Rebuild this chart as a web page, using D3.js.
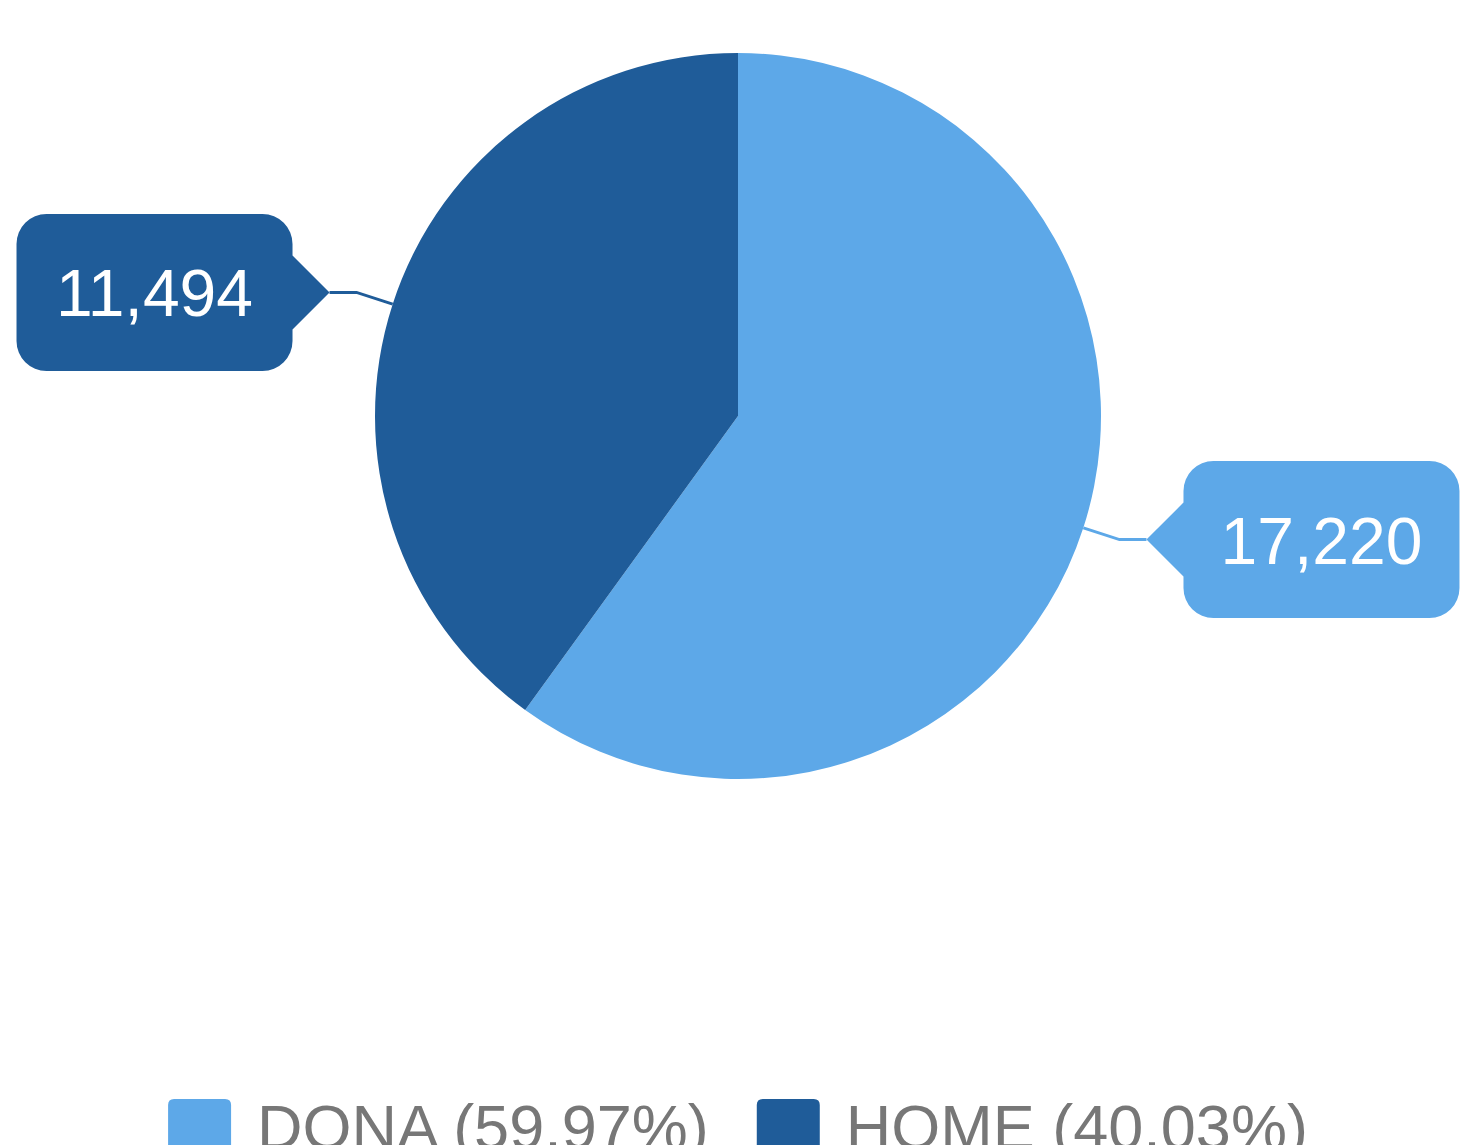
<!DOCTYPE html>
<html>
<head>
<meta charset="utf-8">
<script src="https://cdn.jsdelivr.net/npm/d3@7"></script>
<style>
  body { margin: 0; background: #fff; }
  svg { display: block; font-family: "Liberation Sans", Arial, sans-serif; }
</style>
</head>
<body>
<div id="chart"></div>
<script>
  // data
  var labels = ["DONA", "HOME"];
  var values = [17220, 11494];
  var colors = ["#5DA8E8", "#1F5C99"];

  var width = 1461, height = 1145;
  var cx = 738, cy = 416, radius = 363;

  var svg = d3.select("#chart")
      .append("svg")
      .attr("width", width)
      .attr("height", height);

  var total = d3.sum(values);
  var data = labels.map(function (l, i) { return { label: l, value: values[i], color: colors[i] }; });

  var pie = d3.pie().sort(null).value(function (d) { return d.value; });
  var arcs = pie(data);
  var arc = d3.arc().innerRadius(0).outerRadius(radius);

  var g = svg.append("g").attr("transform", "translate(" + cx + "," + cy + ")");

  g.selectAll("path.slice")
      .data(arcs)
      .enter()
      .append("path")
      .attr("class", "slice")
      .attr("d", arc)
      .attr("fill", function (d) { return d.data.color; });

  // callout box with an arrow pointing at (tx, ty)
  function calloutPath(tx, ty, side, w, h, r, aw, ah) {
    var p = d3.path();
    var x0, x1, y0 = ty - h / 2, y1 = ty + h / 2;
    if (side === "left") { x1 = tx - aw; x0 = x1 - w; } else { x0 = tx + aw; x1 = x0 + w; }
    p.moveTo(x0 + r, y0);
    p.lineTo(x1 - r, y0);
    p.arcTo(x1, y0, x1, y0 + r, r);
    if (side === "left") {
      p.lineTo(x1, ty - ah);
      p.lineTo(tx, ty);
      p.lineTo(x1, ty + ah);
    }
    p.lineTo(x1, y1 - r);
    p.arcTo(x1, y1, x1 - r, y1, r);
    p.lineTo(x0 + r, y1);
    p.arcTo(x0, y1, x0, y1 - r, r);
    if (side === "right") {
      p.lineTo(x0, ty + ah);
      p.lineTo(tx, ty);
      p.lineTo(x0, ty - ah);
    }
    p.lineTo(x0, y0 + r);
    p.arcTo(x0, y0, x0 + r, y0, r);
    p.closePath();
    return { d: p.toString(), cx: (x0 + x1) / 2 };
  }

  var fmt = d3.format(",");
  var boxW = 276, boxH = 157, arrowW = 37;

  arcs.forEach(function (a) {
    var mid = (a.startAngle + a.endAngle) / 2;
    var p1 = [Math.sin(mid) * radius, -Math.cos(mid) * radius];
    var p2 = [Math.sin(mid) * (radius + 38), -Math.cos(mid) * (radius + 38)];
    var right = p2[0] > 0;
    var p3 = [p2[0] + (right ? 27 : -27), p2[1]];

    g.append("polyline")
        .attr("points", [p1, p2, p3].map(function (p) { return p.join(","); }).join(" "))
        .attr("fill", "none")
        .attr("stroke", a.data.color)
        .attr("stroke-width", 3);

    var c = calloutPath(p3[0], p3[1], right ? "right" : "left", boxW, boxH, 30, arrowW, 37);
    g.append("path")
        .attr("d", c.d)
        .attr("fill", a.data.color);

    g.append("text")
        .attr("x", c.cx)
        .attr("y", p3[1] + 24)
        .attr("text-anchor", "middle")
        .attr("fill", "#fff")
        .style("font-size", "66px")
        .text(fmt(a.data.value));
  });

  // legend
  var legend = svg.append("g");
  var sq = 63, gap = 26, itemGap = 48;
  var x = 0;
  var items = legend.selectAll("g.item")
      .data(data)
      .enter()
      .append("g")
      .attr("class", "item");

  items.append("path")
      .attr("d", "M0," + sq + "V6Q0,0 6,0H" + (sq - 6) + "Q" + sq + ",0 " + sq + ",6V" + sq + "Z")
      .attr("fill", function (d) { return d.color; });

  items.append("text")
      .attr("x", sq + gap)
      .attr("y", 50)
      .attr("fill", "#777")
      .style("font-size", "63px")
      .text(function (d) { return d.label + " (" + (d.value / total * 100).toFixed(2) + "%)"; });

  items.each(function () {
    var w = sq + gap + d3.select(this).select("text").node().getComputedTextLength();
    d3.select(this).attr("transform", "translate(" + x + ",0)");
    x += w + itemGap;
  });
  var legendW = x - itemGap;
  legend.attr("transform", "translate(" + (cx - legendW / 2) + ",1099)");
</script>
</body>
</html>
